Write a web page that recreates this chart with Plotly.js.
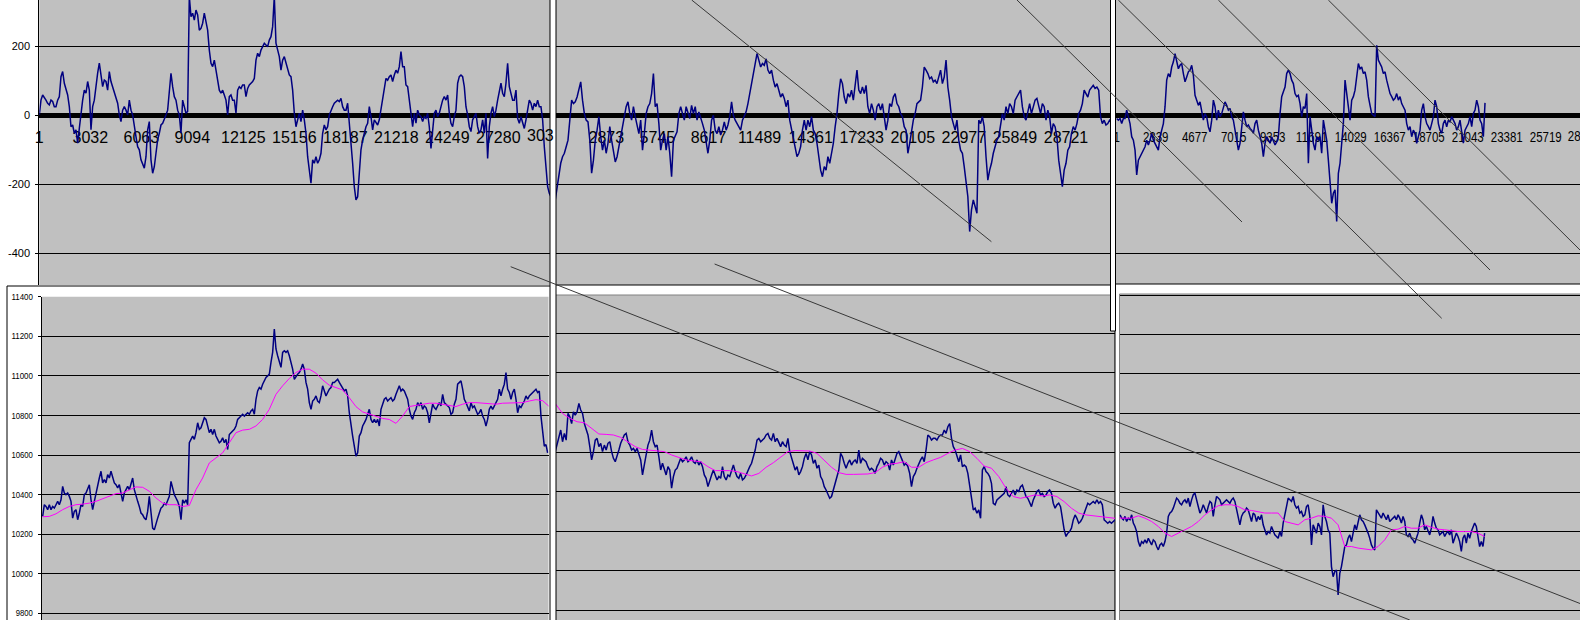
<!DOCTYPE html>
<html>
<head>
<meta charset="utf-8">
<script src="https://cdn.plot.ly/plotly-3.0.1.min.js"></script>
<style>
html,body{margin:0;padding:0;background:#ffffff;overflow:hidden}
#chart{width:1580px;height:620px}
</style>
</head>
<body>
<div id="chart"></div>
<script>
// ---------------- DATA ----------------
// Upper chart: oscillator, three consecutive windows
const osc1 = [1,44,59,49,44,35,30,44,40,25,
25,44,54,112,127,93,73,59,25,-33,
-28,-52,-42,-81,-38,6,44,73,64,98,
73,-42,25,44,93,122,151,112,83,102,
98,73,127,98,83,69,54,35,1,-18,
15,25,15,1,44,15,1,-38,-62,-91,
-100,-129,-139,-153,-120,-42,-18,-129,-168,-149,
-110,-71,-52,-28,-23,-13,1,15,64,122,
83,54,44,15,1,-52,44,25,6,11,
345,286,296,276,305,291,247,252,267,296,
276,247,189,151,141,160,131,102,73,64,
73,59,44,1,54,59,44,44,6,73,
83,78,88,88,54,78,88,93,98,107,
160,180,170,189,199,209,204,199,218,228,
257,345,209,189,170,131,160,170,151,131,
117,112,73,6,-33,-13,6,-18,15,-13,
-52,-120,-168,-197,-129,-139,-120,-139,-129,-110,
-52,-28,-42,-33,1,15,25,35,40,44,
40,49,25,15,15,35,-23,-71,-139,-207,
-245,-236,-168,-100,-71,-47,-33,-23,25,-4,
-42,-13,-23,-28,-13,15,54,83,107,102,
112,117,98,117,131,122,141,185,141,141,
88,83,44,6,-33,6,-23,15,1,-4,
-18,-4,-9,6,-33,-96,-38,6,15,-4,
6,25,44,54,44,59,6,-23,-33,-4,
15,93,112,117,112,83,25,1,-33,-47,
-13,-4,6,-33,-52,-42,-13,-52,6,-125,
-33,6,25,-4,15,44,64,93,64,54,
93,151,83,64,44,44,73,-9,-23,-4,
-23,-38,-13,15,44,35,15,35,25,44,
25,25,-13,-91,-139,-207,-226,-236];

const osc2 = [-245,-207,-168,-139,-120,-110,-91,-72,-14,44,
34,39,53,73,97,44,5,-14,-19,-72,
-168,-130,-72,-43,-4,-62,-101,-72,-110,-81,
-33,-72,-101,-135,-120,-91,-62,-33,-9,25,
39,5,-14,25,-4,-33,-53,-14,-101,-53,
5,25,34,63,121,25,34,-24,-101,-72,
-53,-101,-62,-110,-178,-72,-62,-48,5,25,
5,-14,25,10,-9,29,5,25,-14,10,
-4,-24,-43,-72,-110,-72,-14,0,-43,-53,
-33,-57,-43,-19,-43,-28,-4,39,0,-14,
-24,-33,-43,-14,-4,10,34,63,92,121,
145,179,160,140,150,145,164,131,121,131,
102,82,92,73,53,63,49,25,44,-14,
-43,-62,-101,-120,-110,-91,-43,-14,-43,-14,
-33,-4,-43,-53,-81,-120,-159,-178,-149,-159,
-120,-139,-110,-81,-33,5,63,106,92,53,
34,63,53,73,44,82,131,73,63,82,
63,87,25,5,34,15,-14,25,34,15,
34,-4,-43,-14,34,25,53,63,34,25,
5,-4,-33,-43,-110,-81,-43,-14,5,34,
39,44,82,140,131,121,106,111,97,102,
92,111,131,92,111,160,82,44,-4,-24,
-43,-14,-72,-101,-110,-149,-197,-236,-337,-274,
-245,-265,-284,-14,-24,-4,-33,-120,-188,-159,
-139,-110,-91,-72,-62,-33,5,-14,25,5,
34,25,5,44,53,63,73,25,-4,-14,
15,34,5,25,44,49,25,5,34,25,
-14,15,-4,-53,-24,-33,-62,-130,-168,-207,
-159,-139,-101,-91,-53,-33,-43,-24,5,15,
34,73,63,53,73,82,87,78,82,73,
-4,-24,-14,-28,-24,-14,-19];

const osc3 = [-9,-14,-9,-24,-9,-9,15,-9,-24,-62,
-72,-101,-173,-130,-120,-110,-101,-91,-72,-86,
-72,-52,-72,-81,-91,-101,-62,-43,-24,25,
102,121,111,140,155,179,160,135,145,150,
121,97,111,126,131,145,116,58,44,29,
39,10,-14,5,-4,-33,-48,-14,44,25,
-14,15,-4,5,25,39,29,15,20,-4,
-14,-43,-72,-101,-81,-33,10,-14,-33,-28,
-38,-43,-52,-24,-14,-43,-62,-81,-120,-81,
-62,-72,-81,-62,-72,-86,-77,-62,5,54,
68,82,121,131,121,102,92,63,54,58,
34,-4,25,20,63,-139,-4,-43,-81,-101,
-62,-72,-62,-110,-14,-43,-72,-130,-197,-255,
-226,-216,-308,-168,-139,-91,-24,102,63,25,
-14,44,54,73,111,150,135,140,121,126,
102,54,29,5,0,-4,203,160,150,140,
121,126,102,82,63,54,44,49,63,44,
54,34,25,15,-24,-43,-33,-62,-43,-52,
-81,-62,-43,15,34,-4,-24,-33,-43,-24,
-4,44,25,-24,-43,-52,-24,-14,-33,-14,
-19,-4,-14,-24,-43,-33,-14,-52,-81,-43,
-33,-24,-4,-33,5,15,44,25,-14,-24,
-62,36];

// Lower chart: price and its moving average, three windows
const price1 = [10290,10349,10340,10324,10349,10324,10340,10332,10349,10366,
10349,10374,10442,10408,10400,10408,10391,10366,10281,10315,
10324,10273,10307,10349,10340,10400,10408,10425,10450,10374,
10324,10366,10408,10459,10484,10518,10459,10476,10459,10501,
10484,10518,10493,10459,10450,10434,10450,10400,10366,10408,
10425,10442,10425,10459,10484,10425,10391,10366,10340,10307,
10298,10281,10273,10315,10391,10290,10231,10222,10256,10281,
10307,10332,10340,10357,10349,10366,10391,10467,10425,10400,
10383,10366,10340,10273,10374,10357,10374,10349,10662,10679,
10696,10679,10713,10763,10730,10738,10763,10789,10780,10747,
10713,10730,10704,10730,10696,10679,10662,10670,10687,10662,
10679,10628,10704,10713,10721,10730,10747,10780,10789,10797,
10806,10797,10806,10814,10806,10823,10831,10806,10882,10924,
10941,10933,10958,10975,10992,11000,11009,11068,11119,11237,
11136,11102,11068,11043,11119,11127,11119,11127,11102,11068,
11034,10983,11000,11009,11017,11034,11060,11034,10967,10933,
10865,10831,10873,10882,10899,10873,10865,10899,10950,10924,
10899,10916,10933,10941,10967,10967,10975,10983,10967,10950,
10933,10924,10933,10899,10814,10747,10696,10645,10594,10611,
10696,10713,10747,10763,10780,10806,10831,10780,10763,10780,
10763,10780,10747,10831,10857,10882,10890,10873,10882,10890,
10873,10882,10907,10933,10950,10924,10933,10924,10907,10882,
10831,10797,10780,10814,10831,10865,10848,10865,10831,10848,
10840,10814,10763,10823,10857,10840,10831,10848,10865,10848,
10907,10865,10857,10848,10840,10806,10814,10857,10882,10958,
10967,10975,10933,10882,10865,10840,10823,10865,10840,10848,
10823,10806,10814,10831,10797,10780,10747,10780,10831,10848,
10831,10848,10857,10882,10933,10899,10933,10958,11017,10933,
10916,10882,10916,10933,10882,10814,10848,10840,10857,10873,
10899,10882,10899,10907,10916,10924,10933,10916,10924,10797,
10713,10645,10653,10611];

const ma1 = [10288,10290,10303,10324,10340,10349,10352,10357,10366,10378,
10391,10405,10408,10425,10439,10437,10417,10383,10357,10349,
10349,10340,10345,10425,10484,10560,10586,10611,10662,10713,
10726,10730,10747,10780,10831,10907,10950,10987,11017,11034,
11034,11014,10980,10953,10941,10929,10890,10845,10818,10806,
10794,10785,10780,10760,10797,10845,10851,10857,10862,10862,
10857,10851,10845,10857,10865,10865,10862,10857,10857,10862,
10862,10865,10865,10873,10880,10875,10845];

const price2 = [10602,10644,10677,10711,10652,10694,10660,10795,10778,10744,
10803,10786,10803,10845,10812,10795,10744,10719,10686,10627,
10560,10602,10660,10669,10627,10644,10602,10635,10610,10644,
10652,10602,10568,10551,10576,10610,10644,10669,10686,10694,
10652,10635,10610,10618,10602,10618,10593,10560,10484,10543,
10585,10635,10660,10711,10652,10627,10635,10576,10509,10543,
10518,10484,10526,10509,10417,10476,10509,10518,10543,10568,
10551,10560,10576,10551,10560,10576,10551,10543,10560,10534,
10551,10526,10484,10467,10425,10459,10484,10509,10484,10459,
10476,10467,10526,10476,10459,10484,10476,10509,10534,10501,
10476,10467,10492,10459,10467,10484,10509,10526,10543,10576,
10610,10660,10669,10652,10660,10669,10686,10694,10669,10660,
10694,10652,10669,10644,10627,10652,10635,10627,10669,10602,
10568,10543,10509,10526,10484,10501,10526,10568,10593,10560,
10602,10585,10543,10560,10518,10534,10476,10459,10425,10408,
10383,10366,10375,10408,10442,10476,10509,10593,10576,10543,
10518,10543,10560,10534,10551,10560,10543,10610,10543,10568,
10560,10551,10526,10509,10518,10509,10492,10526,10543,10568,
10560,10534,10551,10543,10509,10560,10534,10568,10593,10602,
10576,10551,10534,10543,10526,10492,10425,10476,10492,10518,
10543,10560,10576,10551,10610,10686,10677,10660,10669,10669,
10660,10677,10686,10686,10711,10694,10728,10744,10669,10627,
10610,10576,10551,10585,10526,10534,10526,10492,10425,10358,
10307,10316,10291,10307,10265,10509,10526,10501,10492,10476,
10442,10341,10333,10358,10366,10375,10383,10391,10425,10383,
10375,10391,10408,10383,10408,10400,10425,10433,10400,10375,
10366,10341,10324,10358,10375,10400,10408,10383,10391,10375,
10383,10400,10408,10391,10341,10316,10333,10341,10324,10257,
10207,10173,10190,10198,10215,10257,10282,10265,10240,10249,
10265,10291,10316,10341,10333,10341,10350,10341,10358,10341,
10350,10333,10257,10249,10240,10249,10240,10249,10257];

const ma2 = [10845,10795,10770,10753,10748,10719,10691,10689,10686,10674,
10652,10627,10613,10610,10607,10602,10585,10573,10560,10555,
10551,10526,10506,10506,10506,10501,10489,10479,10492,10523,
10546,10576,10602,10607,10607,10605,10593,10560,10523,10496,
10487,10487,10489,10489,10496,10523,10539,10543,10551,10523,
10523,10546,10560,10573,10593,10610,10618,10602,10568,10529,
10518,10476,10417,10375,10366,10375,10383,10378,10383,10375,
10349,10316,10291,10282,10277,10274,10270,10265];

const price3 = [10285,10268,10260,10277,10251,10268,10260,10285,10243,10226,
10200,10149,10124,10149,10141,10158,10141,10166,10149,10132,
10158,10149,10124,10107,10132,10141,10124,10149,10192,10277,
10294,10302,10319,10344,10370,10361,10344,10336,10353,10361,
10344,10370,10327,10361,10387,10395,10353,10327,10294,10310,
10336,10319,10294,10327,10353,10344,10277,10336,10378,10370,
10361,10336,10344,10353,10361,10353,10344,10361,10370,10353,
10310,10268,10234,10277,10294,10302,10319,10310,10277,10251,
10294,10285,10251,10277,10260,10285,10234,10209,10183,10200,
10192,10226,10200,10183,10175,10166,10200,10175,10243,10294,
10327,10370,10361,10353,10378,10336,10319,10327,10294,10302,
10277,10285,10327,10336,10277,10132,10234,10217,10192,10243,
10226,10183,10336,10277,10251,10209,10192,10022,9971,9997,
10005,9878,9988,10022,10073,10124,10132,10166,10183,10149,
10192,10234,10209,10251,10285,10260,10251,10234,10217,10192,
10166,10132,10116,10107,10310,10294,10285,10268,10294,10277,
10260,10285,10251,10260,10268,10277,10260,10285,10268,10243,
10277,10251,10183,10175,10192,10166,10158,10141,10166,10192,
10243,10285,10260,10209,10226,10200,10183,10217,10277,10243,
10217,10209,10183,10192,10200,10175,10192,10200,10183,10209,
10141,10166,10192,10175,10149,10099,10166,10183,10141,10192,
10166,10200,10226,10243,10226,10166,10124,10149,10124,10192];

const ma3 = [10268,10268,10268,10280,10268,10251,10226,10192,10175,10192,
10209,10226,10251,10285,10310,10331,10336,10336,10327,10310,
10307,10302,10294,10294,10294,10251,10243,10234,10260,10268,
10280,10277,10268,10234,10124,10124,10116,10110,10107,10124,
10158,10209,10212,10226,10217,10217,10234,10222,10212,10209,
10205,10200,10200,10200,10192,10175];

// Category tick labels of the upper chart
const ticks1 = [1, 3032, 6063, 9094, 12125, 15156, 18187, 21218, 24249, 27280];
const ticks2 = [2873, 5745, 8617, 11489, 14361, 17233, 20105, 22977, 25849, 28721];
const ticks3 = [1, 2339, 4677, 7015, 9353, 11691, 14029, 16367, 18705, 21043, 23381, 25719];
const oscTicks = [-400, -200, 0, 200];

// ---------------- LAYOUT ----------------
const W = 1580, H = 620;
const fx = p => p / W;
const fy = p => 1 - p / H;
const seq = (n, start, step) => Array.from({length: n}, (_, i) => start + i * step);

const FONT = 'Liberation Sans, Arial, sans-serif';
const GRAY = '#C0C0C0';
const NAVY = '#000080';
const MAGENTA = '#FF00FF';

function blue(x, y, xa, ya) {
  return {type: 'scatter', mode: 'lines', x: x, y: y, xaxis: xa, yaxis: ya,
          line: {color: NAVY, width: 1.5}, hoverinfo: 'skip'};
}
function pink(x, y, xa, ya) {
  return {type: 'scatter', mode: 'lines', x: x, y: y, xaxis: xa, yaxis: ya,
          line: {color: MAGENTA, width: 1}, hoverinfo: 'skip'};
}

const traces = [
  blue(seq(osc1.length, 1, 99.05), osc1, 'x', 'y'),
  blue(seq(osc2.length, 1, 102.2), osc2, 'x2', 'y2'),
  blue(seq(osc3.length, 1, 99.9), osc3, 'x3', 'y3'),
  blue(seq(price1.length, 1, 100.36), price1, 'x4', 'y4'),
  pink(seq(ma1.length, 1, 401.4), ma1, 'x4', 'y4'),
  blue(seq(price2.length, 1, 102.2), price2, 'x5', 'y5'),
  pink(seq(ma2.length, 1, 408.8), ma2, 'x5', 'y5'),
  blue(seq(price3.length, 1, 99.9), price3, 'x6', 'y6'),
  pink(seq(ma3.length, -99, 399.6), ma3, 'x6', 'y6')
];

function topX(d0, d1, range, tv, font) {
  return {domain: [fx(d0), fx(d1)], range: range, anchor: 'free', position: fy(115), side: 'bottom',
    tickmode: 'array', tickvals: tv, ticktext: tv.map(String), tickangle: 0, tickfont: font,
    ticks: '', showgrid: false, zeroline: false, showline: true, linecolor: '#000', linewidth: 5,
    layer: 'below traces', ticklabelstandoff: 6, fixedrange: true};
}
function topY(anchor, labels) {
  return {domain: [fy(285), 1], range: [-491.9, 334.3], anchor: anchor,
    tickmode: 'array', tickvals: oscTicks, ticktext: oscTicks.map(String),
    showticklabels: labels, tickfont: {family: FONT, size: 11, color: '#000'},
    showgrid: true, gridcolor: '#000', gridwidth: 1, zeroline: false,
    showline: labels, linecolor: '#000', linewidth: 1,
    ticks: labels ? 'outside' : '', ticklen: 3, tickcolor: '#000', ticklabelstandoff: 3, fixedrange: true};
}
function lowX(d0, d1, range, anchor) {
  return {domain: [fx(d0), fx(d1)], range: range, anchor: anchor, visible: false, fixedrange: true};
}
function lowY(top, range, anchor, labels) {
  return {domain: [0, fy(top)], range: range, anchor: anchor, dtick: 200, tick0: 0, tickformat: 'd',
    showticklabels: labels, tickfont: {family: FONT, size: 9, color: '#000'},
    showgrid: true, gridcolor: '#000', gridwidth: 1, zeroline: false,
    showline: labels, linecolor: '#000', linewidth: 1,
    ticks: labels ? 'outside' : '', ticklen: 3, tickcolor: '#000', ticklabelstandoff: 3, fixedrange: true};
}

function rect(x0, y0, x1, y1, fill, line, layer) {
  return {type: 'rect', xref: 'paper', yref: 'paper', x0: fx(x0), x1: fx(x1), y0: fy(y0), y1: fy(y1),
    fillcolor: fill, line: line ? {color: line, width: 1} : {width: 0}, layer: layer};
}
function seg(x0, y0, x1, y1) {
  return {type: 'line', xref: 'paper', yref: 'paper', x0: fx(x0), x1: fx(x1), y0: fy(y0), y1: fy(y1),
    line: {color: '#383838', width: 1}, layer: 'above'};
}

const shapes = [
  // plot areas of the upper chart
  rect(39.3, 0, 550, 285, GRAY, null, 'below'),
  rect(556, 0, 1110.5, 285, GRAY, null, 'below'),
  rect(1115.5, 0, 1580, 285, GRAY, null, 'below'),
  // lower chart boxes and plot areas
  rect(7, 286, 551, 640, '#ffffff', '#000', 'below'),
  rect(41.7, 296.7, 548.5, 640, GRAY, null, 'below'),
  rect(552, 285, 1116, 640, '#ffffff', '#000', 'below'),
  rect(555.5, 295, 1115, 640, GRAY, '#808080', 'below'),
  rect(1115, 284, 1600, 640, '#ffffff', '#000', 'below'),
  rect(1119.5, 294, 1600, 640, GRAY, '#808080', 'below'),
  // separating double borders
  rect(550, -5, 556, 640, '#ffffff', '#000', 'above'),
  rect(1110.5, -5, 1115.5, 331, '#ffffff', '#000', 'above'),
  // hand-drawn trend lines
  seg(691.7, 0, 991.4, 241.7),
  seg(1017, 0, 1242, 222),
  seg(1118.3, 0, 1441.7, 318.3),
  seg(1218.3, 0, 1490, 270),
  seg(1328.3, 0, 1580, 250),
  seg(510.7, 266.7, 1409.8, 620),
  seg(714.6, 264, 1580, 603.5)
];

const f16 = {family: FONT, size: 16, color: '#000'};
const f15 = {family: FONT, size: 15, color: '#000'};

const layout = {
  width: W, height: H, autosize: false,
  margin: {l: 0, r: 0, t: 0, b: 0, pad: 0},
  paper_bgcolor: '#ffffff', plot_bgcolor: 'rgba(0,0,0,0)',
  showlegend: false, hovermode: false,
  font: {family: FONT, color: '#000'},
  xaxis: topX(39.3, 550, [0, 30352], ticks1, f16),
  xaxis2: topX(556, 1110.5, [42, 31222], ticks2, f16),
  xaxis3: topX(1115.5, 1580, [-71, 27772], ticks3, f15),
  yaxis: topY('x', true),
  yaxis2: topY('x2', false),
  yaxis3: topY('x3', false),
  xaxis4: lowX(41.7, 548.5, [-57, 30462], 'y4'),
  xaxis5: lowX(555.5, 1115, [14, 31475], 'y5'),
  xaxis6: lowX(1119.5, 1580, [-29, 27601], 'y6'),
  yaxis4: lowY(296.7, [9766.3, 11400.3], 'x4', true),
  yaxis5: lowY(295, [9751, 11393.5], 'x5', false),
  yaxis6: lowY(294, [9751, 11406], 'x6', false),
  shapes: shapes,
  annotations: [
    {text: '303', xref: 'paper', yref: 'paper', x: fx(525), y: fy(135.5), xanchor: 'left', yanchor: 'middle',
     showarrow: false, font: f16, name: 'p1tail'},
    {text: '28057', xref: 'paper', yref: 'paper', x: fx(1584), y: fy(135.5), xanchor: 'center', yanchor: 'middle',
     showarrow: false, font: f15, name: 'p3tail'}
  ]
};

// The third upper window and the lower price axis use horizontally squeezed lettering
function squeeze(nodes, perChar) {
  nodes.forEach(t => {
    const s = (t.textContent || '').trim();
    if (!s) return;
    t.setAttribute('textLength', (s.length * perChar).toFixed(1));
    t.setAttribute('lengthAdjust', 'spacingAndGlyphs');
  });
}

Plotly.newPlot('chart', traces, layout, {staticPlot: true, displayModeBar: false}).then(gd => {
  squeeze(gd.querySelectorAll('g.x3tick text'), 6.4);
  squeeze(gd.querySelectorAll('g.y4tick text'), 4.3);
  const ann = gd.querySelectorAll('g.annotation text.annotation-text');
  if (ann.length > 1) squeeze([ann[1]], 6.4);
});
</script>
</body>
</html>
